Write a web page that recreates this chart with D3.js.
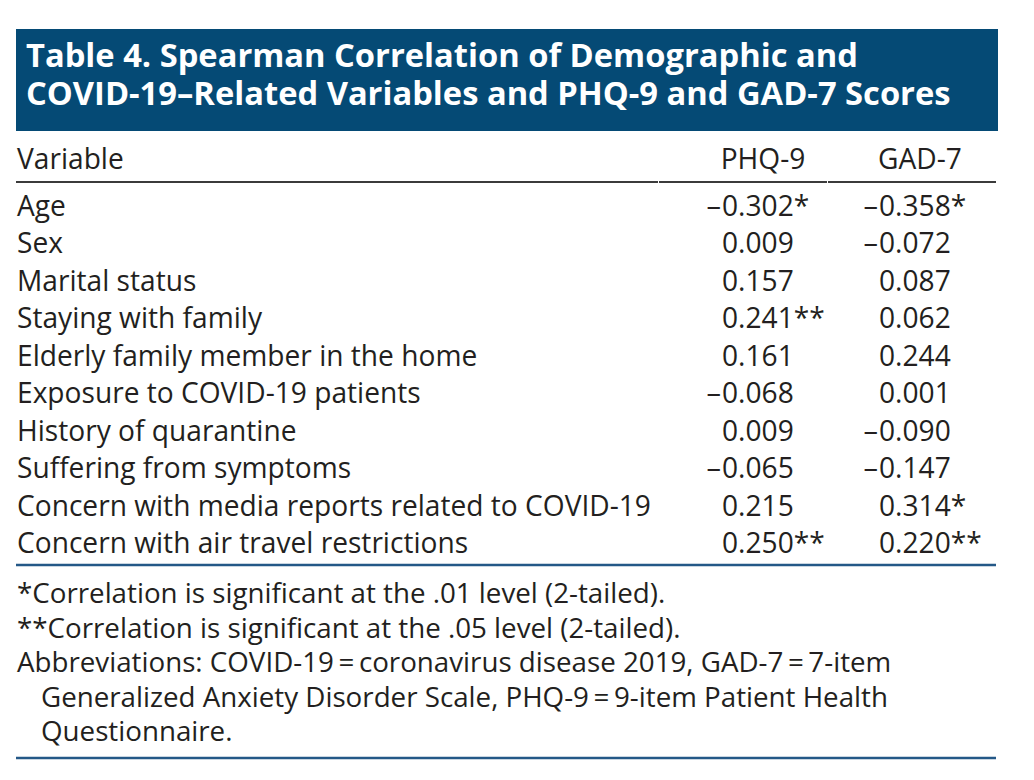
<!DOCTYPE html>
<html>
<head>
<meta charset="utf-8">
<script src="https://cdn.jsdelivr.net/npm/d3@7"></script>
<style>
  html, body { margin: 0; padding: 0; background: #ffffff; }
  svg { display: block; }
  text { font-family: "Open Sans", "Noto Sans", sans-serif; }
</style>
</head>
<body>
<svg id="chart" width="1034" height="780"></svg>
<script>
// ---------- data ----------
const titleLines = [
  "Table 4. Spearman Correlation of Demographic and",
  "COVID-19\u2013Related Variables and PHQ-9 and GAD-7 Scores"
];
const columnHeaders = ["Variable", "PHQ-9", "GAD-7"];
const variables = [
  "Age",
  "Sex",
  "Marital status",
  "Staying with family",
  "Elderly family member in the home",
  "Exposure to COVID-19 patients",
  "History of quarantine",
  "Suffering from symptoms",
  "Concern with media reports related to COVID-19",
  "Concern with air travel restrictions"
];
const phq9 = [-0.302, 0.009, 0.157, 0.241, 0.161, -0.068, 0.009, -0.065, 0.215, 0.250];
const phq9Sig = ["*", "", "", "**", "", "", "", "", "", "**"];
const gad7 = [-0.358, -0.072, 0.087, 0.062, 0.244, 0.001, -0.090, -0.147, 0.314, 0.220];
const gad7Sig = ["*", "", "", "", "", "", "", "", "*", "**"];
const footnotes = [
  {text: "*Correlation is significant at the .01 level (2-tailed).", indent: false},
  {text: "**Correlation is significant at the .05 level (2-tailed).", indent: false},
  {text: "Abbreviations: COVID-19\u2009=\u2009coronavirus disease 2019, GAD-7\u2009=\u20097-item", indent: false},
  {text: "Generalized Anxiety Disorder Scale, PHQ-9\u2009=\u20099-item Patient Health", indent: true},
  {text: "Questionnaire.", indent: true}
];

// ---------- layout ----------
const W = 1034, H = 780;
const left = 16, right = 996;
const textX = 17;
const ink = "#231f20";
const navy = "#054a75";
const rule = "#245887";
const BODY_SIZE = 29, BODY_K = 0.97;
const FOOT_SIZE = 28, FOOT_K = 0.99;
const TITLE_SIZE = 32.7;

const svg = d3.select("#chart");
svg.append("rect").attr("width", W).attr("height", H).attr("fill", "#fff");

function condense(sel, k) {
  sel.each(function () {
    const len = this.getComputedTextLength();
    if (len > 0) {
      this.setAttribute("textLength", (len * k).toFixed(2));
      this.setAttribute("lengthAdjust", "spacingAndGlyphs");
    }
  });
}

// Title banner
svg.append("rect")
  .attr("x", left).attr("y", 29)
  .attr("width", 982).attr("height", 102)
  .attr("fill", navy);

const titleY = d3.scalePoint().domain(d3.range(titleLines.length)).range([67, 105]);
svg.append("text")
  .attr("fill", "#fff")
  .attr("font-size", TITLE_SIZE)
  .attr("font-weight", 700)
  .selectAll("tspan").data(titleLines).join("tspan")
  .attr("x", 26).attr("y", (d, i) => titleY(i))
  .text(d => d);

// Columns
const colX = d3.scaleOrdinal().domain(["PHQ-9", "GAD-7"]).range([722, 879]);
const colW = 82;

// Header row
svg.append("text")
  .attr("x", textX).attr("y", 169)
  .attr("font-size", BODY_SIZE).attr("fill", ink)
  .text(columnHeaders[0]).call(condense, BODY_K);

svg.append("g").selectAll("text").data(columnHeaders.slice(1)).join("text")
  .attr("x", d => colX(d) + colW / 2).attr("y", 169)
  .attr("text-anchor", "middle")
  .attr("font-size", BODY_SIZE).attr("fill", ink)
  .text(d => d).call(condense, BODY_K);

// Header rule (three segments with hairline gaps)
const headerSegs = [[left, 658], [659, 827], [828, right]];
svg.append("g").selectAll("line").data(headerSegs).join("line")
  .attr("x1", d => d[0]).attr("x2", d => d[1])
  .attr("y1", 182).attr("y2", 182)
  .attr("stroke", "#3b3b3b").attr("stroke-width", 2);

// Body rows
const rowY = d3.scalePoint().domain(variables).range([216, 553]);
const fmt = d3.format(".3f");

const rows = svg.append("g").selectAll("g").data(variables.map((v, i) => ({
  name: v,
  vals: [
    {col: "PHQ-9", v: phq9[i], sig: phq9Sig[i]},
    {col: "GAD-7", v: gad7[i], sig: gad7Sig[i]}
  ]
}))).join("g");

rows.append("text")
  .attr("x", textX).attr("y", d => rowY(d.name))
  .attr("font-size", BODY_SIZE).attr("fill", ink)
  .text(d => d.name).call(condense, BODY_K);

const cells = rows.selectAll("g.cell").data(d => d.vals.map(c => ({...c, y: rowY(d.name)})))
  .join("g").attr("class", "cell");

cells.filter(d => d.v < 0).append("text")
  .attr("x", d => colX(d.col) - 1).attr("y", d => d.y)
  .attr("text-anchor", "end")
  .attr("font-size", BODY_SIZE).attr("fill", ink)
  .text("\u2013");

cells.append("text")
  .attr("x", d => colX(d.col)).attr("y", d => d.y)
  .attr("font-size", BODY_SIZE).attr("fill", ink)
  .text(d => fmt(Math.abs(d.v)) + d.sig)
  .call(condense, BODY_K);

// Bottom rule of body
svg.append("line")
  .attr("x1", left).attr("x2", right).attr("y1", 565).attr("y2", 565)
  .attr("stroke", rule).attr("stroke-width", 2.5);

// Footnotes
const footY = d3.scalePoint().domain(d3.range(footnotes.length)).range([603, 741]);
svg.append("g").selectAll("text").data(footnotes).join("text")
  .attr("x", d => d.indent ? 41 : textX)
  .attr("y", (d, i) => footY(i))
  .attr("font-size", FOOT_SIZE).attr("fill", ink)
  .text(d => d.text).call(condense, FOOT_K);

svg.append("line")
  .attr("x1", left).attr("x2", right).attr("y1", 758).attr("y2", 758)
  .attr("stroke", rule).attr("stroke-width", 2.5);
</script>
</body>
</html>
